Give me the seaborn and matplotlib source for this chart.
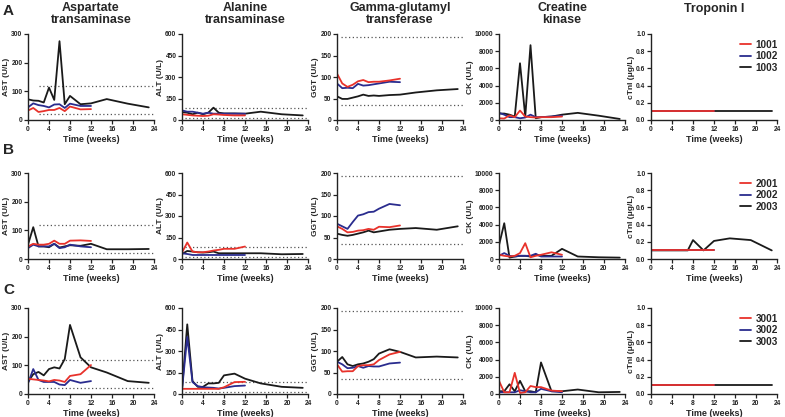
import pandas as pd
import seaborn as sns
import matplotlib.pyplot as plt
from matplotlib.lines import Line2D

# time points (weeks)
weeks_short = [0, 1, 2, 3, 4, 5, 6, 7, 8, 10, 12]
weeks_long = [0, 1, 2, 3, 4, 5, 6, 7, 8, 10, 12, 15, 19, 23]

# --- cohort A ---
ast_1001 = [33, 42, 28, 31, 35, 35, 42, 31, 47, 37, 38]
ast_1002 = [44, 58, 52, 49, 44, 54, 55, 42, 57, 49, 49]
ast_1003 = [72, 68, 67, 61, 113, 70, 275, 55, 84, 55, 58, 73, 57, 44]
alt_1001 = [40, 36, 32, 30, 28, 30, 40, 38, 35, 32, 32]
alt_1002 = [67, 58, 58, 51, 44, 51, 44, 44, 44, 44, 44]
alt_1003 = [55, 51, 40, 51, 40, 51, 86, 51, 46, 46, 44, 58, 40, 32]
ggt_1001 = [108, 85, 77, 82, 90, 93, 88, 89, 89, 92, 96]
ggt_1002 = [85, 74, 75, 74, 84, 80, 81, 83, 85, 89, 88]
ggt_1003 = [55, 49, 49, 52, 55, 59, 56, 57, 56, 58, 59, 64, 69, 72]
ck_1001 = [200, 170, 540, 330, 1100, 400, 330, 290, 330, 330, 400]
ck_1002 = [830, 620, 330, 330, 200, 290, 620, 330, 330, 400, 500]
ck_1003 = [750, 750, 620, 400, 6600, 400, 8700, 200, 330, 400, 620, 830, 500, 120]
ctni_1001 = [0.1] * 11
ctni_1002 = [0.1] * 11
ctni_1003 = [0.1] * 14

# --- cohort B ---
ast_2001 = [44, 53, 50, 50, 53, 64, 53, 53, 64, 65, 63]
ast_2002 = [38, 50, 44, 44, 44, 53, 38, 41, 50, 44, 41]
ast_2003 = [50, 111, 44, 44, 41, 53, 40, 44, 48, 46, 53, 34, 34, 35]
alt_2001 = [45, 115, 52, 47, 47, 52, 59, 64, 71, 71, 87]
alt_2002 = [40, 35, 28, 28, 28, 28, 28, 28, 28, 28, 28]
alt_2003 = [35, 56, 52, 47, 45, 47, 52, 40, 40, 40, 40, 40, 33, 35]
ggt_2001 = [76, 70, 62, 63, 66, 67, 70, 68, 75, 74, 78]
ggt_2002 = [82, 76, 70, 86, 101, 104, 109, 110, 117, 128, 125]
ggt_2003 = [59, 56, 54, 56, 59, 62, 66, 62, 64, 68, 70, 72, 68, 76]
ck_2001 = [490, 370, 290, 370, 690, 1840, 200, 370, 490, 780, 490]
ck_2002 = [370, 690, 370, 290, 370, 370, 370, 610, 290, 290, 290]
ck_2003 = [1600, 4160, 160, 290, 370, 370, 290, 490, 370, 370, 1180, 290, 200, 160]
ctni_2001 = [0.1] * 11
ctni_2002 = [0.1] * 11
ctni_2003 = [0.1, 0.1, 0.1, 0.1, 0.1, 0.1, 0.1, 0.1, 0.22, 0.1, 0.21, 0.24, 0.22, 0.1]

# --- cohort C ---
ast_3001 = [53, 51, 49, 47, 44, 49, 47, 42, 63, 69, 101]
ast_3002 = [37, 87, 49, 42, 42, 42, 33, 31, 49, 39, 45]
ast_3003 = [42, 69, 77, 65, 87, 93, 89, 122, 241, 128, 93, 75, 45, 39]
alt_3001 = [36, 36, 36, 36, 36, 36, 36, 36, 47, 83, 85]
alt_3002 = [31, 398, 83, 55, 47, 45, 43, 38, 43, 55, 59]
alt_3003 = [31, 486, 90, 50, 50, 74, 74, 78, 130, 142, 107, 74, 50, 43]
ggt_3001 = [69, 52, 53, 53, 65, 67, 67, 69, 79, 92, 98]
ggt_3002 = [75, 69, 60, 61, 65, 61, 65, 64, 64, 71, 73]
ggt_3003 = [75, 86, 69, 65, 69, 71, 75, 81, 94, 104, 98, 85, 87, 85]
ck_3001 = [1530, 200, 200, 2460, 120, 200, 930, 800, 800, 400, 320]
ck_3002 = [200, 200, 200, 200, 440, 320, 200, 200, 600, 320, 200]
ck_3003 = [320, 320, 1130, 320, 1530, 320, 320, 200, 3670, 320, 320, 520, 200, 240]
ctni_3001 = [0.1] * 11
ctni_3002 = [0.1] * 11
ctni_3003 = [0.1] * 14

cohorts = [["1001", "1002", "1003"], ["2001", "2002", "2003"], ["3001", "3002", "3003"]]
analytes = ["ast", "alt", "ggt", "ck", "ctni"]
titles = ["Aspartate\ntransaminase", "Alanine\ntransaminase", "Gamma-glutamyl\ntransferase",
          "Creatine\nkinase", "Troponin I"]
ylabels = ["AST (U/L)", "ALT (U/L)", "GGT (U/L)", "CK (U/L)", "cTnI (μg/L)"]
yticks = [[0, 100, 200, 300], [0, 150, 300, 450, 600], [0, 50, 100, 150, 200],
          [0, 2000, 4000, 6000, 8000, 10000], [0.0, 0.2, 0.4, 0.6, 0.8, 1.0]]
ytick_labels = [None, None, None, None, ["0.0", "0.2", "0.4", "0.6", "0.8", "1.0"]]
# reference ranges (dotted lines): lower, upper, start week
ast_limits = [21, 120]
alt_limits = [16, 86]
ggt_limits = [36, 194]
limit_start = {"ast": 2, "alt": 0.5, "ggt": 0.7}
limits = {"ast": ast_limits, "alt": alt_limits, "ggt": ggt_limits}

colors = ["#e8322b", "#2a2c8e", "#1a1a1a"]

# long-form table
rows = []
for ids in cohorts:
    for sid in ids:
        for a in analytes:
            vals = globals()[f"{a}_{sid}"]
            wk = weeks_short if len(vals) == len(weeks_short) else weeks_long
            for w, v in zip(wk, vals):
                rows.append({"subject": sid, "analyte": a, "week": w, "value": v})
df = pd.DataFrame(rows)

sns.set_theme(style="ticks")
plt.rcParams["font.family"] = ["Liberation Sans", "DejaVu Sans"]
plt.rcParams["font.weight"] = "bold"
plt.rcParams["axes.labelweight"] = "bold"

fig = plt.figure(figsize=(7.85, 4.17), dpi=100)
W, H = 785, 417
col_left = [28, 182, 337, 499, 651]
row_top = [34, 173, 308]
aw, ah = 126, 86

for r, ids in enumerate(cohorts):
    for c, a in enumerate(analytes):
        ax = fig.add_axes([col_left[c] / W, 1 - (row_top[r] + ah) / H, aw / W, ah / H])
        sub = df[(df.analyte == a) & (df.subject.isin(ids))]
        if a in limits:
            for v in limits[a]:
                ax.hlines(v, limit_start[a], 24, colors="#555555", linestyles=(0, (1, 2)), lw=0.9)
        pal = dict(zip(ids, colors))
        sns.lineplot(data=sub, x="week", y="value", hue="subject", hue_order=ids[::-1],
                     palette=pal, sort=False, estimator=None, lw=1.3, legend=False, ax=ax)
        ax.set_xlim(0, 24)
        ax.set_xticks(range(0, 25, 4))
        ax.set_ylim(yticks[c][0], yticks[c][-1])
        ax.set_yticks(yticks[c])
        if ytick_labels[c]:
            ax.set_yticklabels(ytick_labels[c])
        ax.set_xlabel("Time (weeks)", fontsize=6.5, fontweight="bold", labelpad=1.5)
        ax.set_ylabel(ylabels[c], fontsize=6.0, fontweight="bold", labelpad=0.8)
        ax.tick_params(labelsize=4.8, length=3, width=0.9, pad=1, colors="#222222")
        for s in ["left", "bottom"]:
            ax.spines[s].set_linewidth(1.0)
            ax.spines[s].set_color("#222222")
        sns.despine(ax=ax)
        if r == 0:
            ax.set_title(titles[c], fontsize=9, fontweight="bold", linespacing=0.95,
                         pad=8 if c < 4 else 16)
        if a == "ctni":
            handles = [Line2D([], [], color=col, lw=1.3) for col in colors]
            ax.legend(handles, ids, loc="upper right", bbox_to_anchor=(1.08, 1.04),
                      frameon=False, handlelength=1.1, handletextpad=0.5,
                      labelspacing=0.15, prop={"weight": "bold", "size": 7.2})

for letter, y in zip("ABC", [11, 150, 290]):
    fig.text(3 / W, 1 - y / H, letter, fontsize=11, fontweight="bold", va="center")

fig.savefig("out.png", dpi=100)
